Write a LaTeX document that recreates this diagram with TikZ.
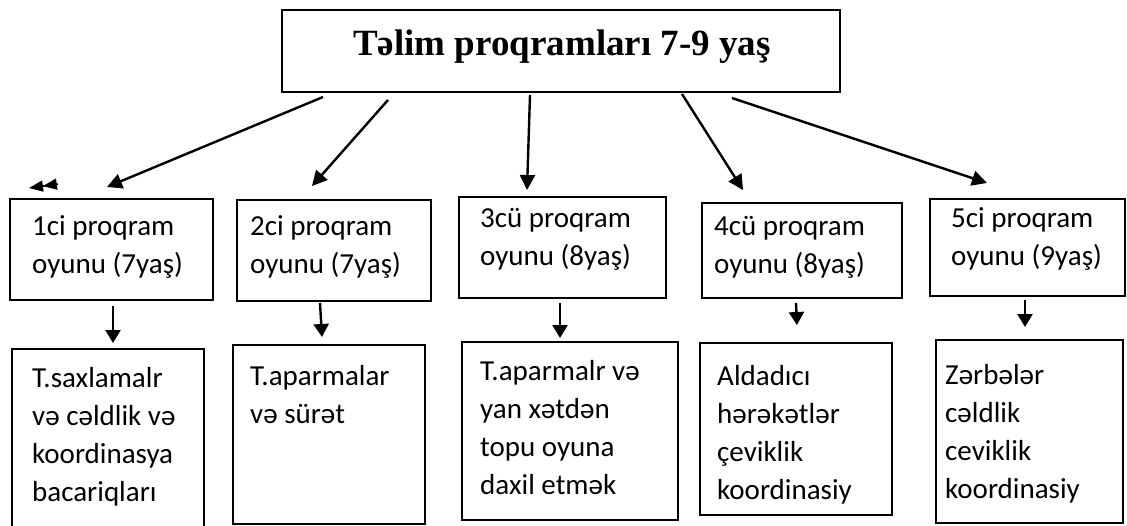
\documentclass[tikz,border=0pt]{standalone}
\usepackage{fontspec}
\setmainfont{Carlito}
\newfontfamily\titlefont{Liberation Serif}
\usetikzlibrary{arrows.meta}
\begin{document}
\begin{tikzpicture}[x=1pt,y=-1pt,
  box/.style={draw, line width=1.8pt, inner sep=0pt, anchor=north west},
  txt/.style={anchor=base west, inner sep=0pt, font=\fontsize{29}{38}\selectfont},
  arr/.style={line width=2.4pt, -{Triangle[length=15pt,width=15pt]}},
  varr/.style={line width=2.4pt, -{Triangle[length=13pt,width=15pt]}},
]
\useasboundingbox (0,0) rectangle (1127,525);
% title box
\node[box, minimum width=558pt, minimum height=82pt] (top) at (281,9) {};
\node[anchor=base west, inner sep=0pt, font=\titlefont\bfseries\fontsize{37}{44}\selectfont] (title) at (353,55) {Təlim proqramları 7-9 yaş};
% level 1 boxes
\node[box, minimum width=203pt, minimum height=101pt] (p1) at (9,198) {};
\node[box, minimum width=194pt, minimum height=101pt] (p2) at (236,199) {};
\node[box, minimum width=207pt, minimum height=101pt] (p3) at (458,196) {};
\node[box, minimum width=200pt, minimum height=95pt] (p4) at (701,202) {};
\node[box, minimum width=195pt, minimum height=97pt] (p5) at (929,198) {};
\node[txt] (t1) at (32,235) {\begin{tabular}[t]{@{}l@{}}1ci proqram\\oyunu (7yaş)\end{tabular}};
\node[txt] (t2) at (250,235) {\begin{tabular}[t]{@{}l@{}}2ci proqram\\oyunu (7yaş)\end{tabular}};
\node[txt] (t3) at (480,227) {\begin{tabular}[t]{@{}l@{}}3cü proqram\\oyunu (8yaş)\end{tabular}};
\node[txt] (t4) at (714,235) {\begin{tabular}[t]{@{}l@{}}4cü proqram\\oyunu (8yaş)\end{tabular}};
\node[txt] (t5) at (951,227) {\begin{tabular}[t]{@{}l@{}}5ci proqram\\oyunu (9yaş)\end{tabular}};
% level 2 boxes
\node[box, minimum width=192pt, minimum height=182pt] (r1) at (11,348) {};
\node[box, minimum width=192pt, minimum height=179pt] (r2) at (232,344) {};
\node[box, minimum width=216pt, minimum height=178pt] (r3) at (461,341) {};
\node[box, minimum width=192pt, minimum height=172pt] (r4) at (699,342) {};
\node[box, minimum width=187pt, minimum height=183pt] (r5) at (935,339) {};
\node[txt] (b1) at (32,387) {\begin{tabular}[t]{@{}l@{}}T.saxlamalr\\və cəldlik və\\koordinasya\\bacariqları\end{tabular}};
\node[txt] (b2) at (250,385) {\begin{tabular}[t]{@{}l@{}}T.aparmalar\\və sürət\end{tabular}};
\node[txt] (b3) at (480,380) {\begin{tabular}[t]{@{}l@{}}T.aparmalr və\\yan xətdən\\topu oyuna\\daxil etmək\end{tabular}};
\node[txt] (b4) at (717,385) {\begin{tabular}[t]{@{}l@{}}Aldadıcı\\hərəkətlər\\çeviklik\\koordinasiy\end{tabular}};
\node[txt] (b5) at (945,384) {\begin{tabular}[t]{@{}l@{}}Zərbələr\\cəldlik\\ceviklik\\koordinasiy\end{tabular}};
% connector end points
\coordinate (s1) at (323,97);  \coordinate (e1) at (107,187);
\coordinate (s2) at (388,100); \coordinate (e2) at (312,186);
\coordinate (s3) at (530,95);  \coordinate (e3) at (527,190);
\coordinate (s4) at (682,94);  \coordinate (e4) at (743,190);
\coordinate (s5) at (732,98);  \coordinate (e5) at (987,183);
\coordinate (d1) at (58,184);  \coordinate (d2) at (29,188);
\coordinate (u1) at (113,306); \coordinate (v1) at (113,343);
\coordinate (u2) at (320,303); \coordinate (v2) at (322,337);
\coordinate (u3) at (560,303); \coordinate (v3) at (560,338);
\coordinate (u4) at (796,303); \coordinate (v4) at (797,325);
\coordinate (u5) at (1025,300); \coordinate (v5) at (1025,327);
% connectors
\foreach \i in {1,...,5} { \draw[arr] (s\i) -- (e\i); }
\foreach \i in {1,...,5} { \draw[varr] (u\i) -- (v\i); }
\draw[line width=1.5pt, -{Triangle[length=14pt,width=11pt]Triangle[length=14pt,width=11pt]}] (d1) -- (d2);
\end{tikzpicture}
\end{document}
